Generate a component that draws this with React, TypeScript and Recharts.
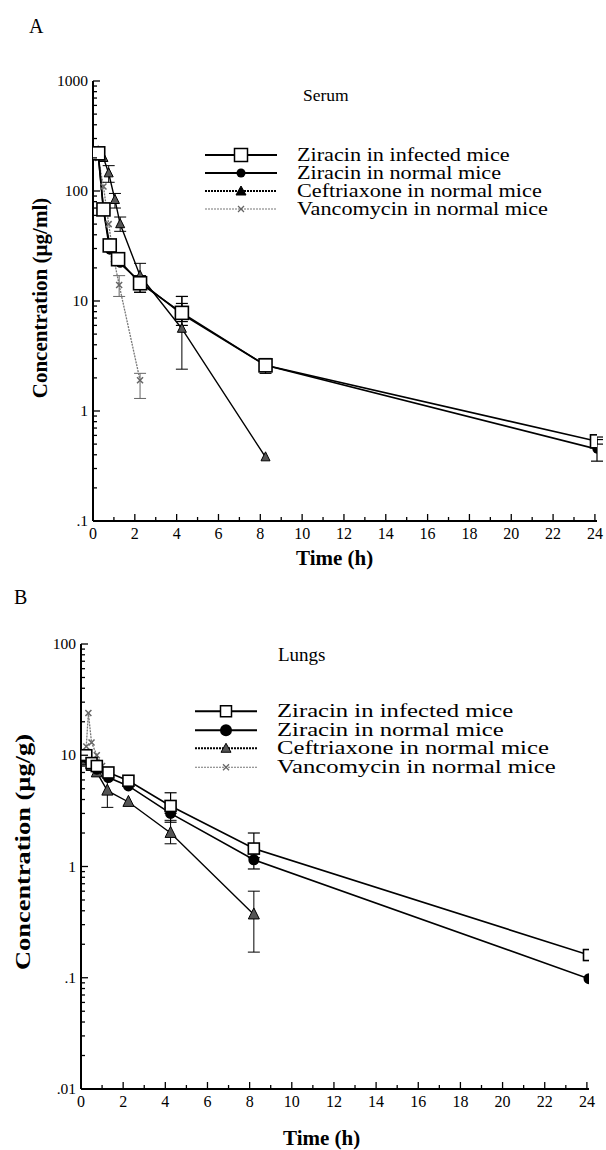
import { LineChart, Line, XAxis, YAxis, ErrorBar } from 'recharts';

// Serum (panel A)
const serumInfT = [0.25, 0.5, 0.8, 1.2, 2.25, 4.25, 8.25, 24.1];
const serumInfV = [220, 68, 32, 24, 14.5, 7.8, 2.6, 0.53];
const serumInfErr = [null, null, null, null, [12, 17], [6.5, 9.5], [2.2, 3.0], [0.5, 0.58]];

const serumNorT = [0.25, 0.5, 0.8, 1.3, 2.25, 4.25, 8.25, 24.1];
const serumNorV = [210, 68, 29, 22, 15, 7.6, 2.6, 0.45];
const serumNorErr = [null, null, null, null, null, [6, 11], null, [0.35, 0.55]];

const serumCefT = [0.25, 0.5, 0.75, 1.05, 1.3, 2.25, 4.25, 8.25];
const serumCefV = [230, 200, 145, 83, 50, 17, 5.6, 0.38];
const serumCefErr = [null, null, [120, 170], [70, 95], [43, 58], [12, 22], [2.4, 11], null];

const serumVanT = [0.25, 0.5, 0.75, 1, 1.25, 2.25];
const serumVanV = [200, 110, 50, 24, 14, 1.9];
const serumVanErr = [null, null, null, null, [11, 17], [1.3, 2.2]];

// Lungs (panel B)
const lungInfT = [0.25, 0.5, 0.75, 1.3, 2.25, 4.25, 8.2, 24.1];
const lungInfV = [10, 8.5, 8, 7, 5.9, 3.5, 1.45, 0.16];
const lungInfErr = [null, null, null, null, null, [3.0, 4.6], [1.2, 2.0], null];

const lungNorT = [0.25, 0.5, 0.75, 1.3, 2.25, 4.25, 8.2, 24.1];
const lungNorV = [9.5, 8.5, 7.5, 6.3, 5.3, 3.0, 1.15, 0.098];
const lungNorErr = [null, null, null, null, null, [2.5, 3.4], [0.95, 1.3], null];

const lungCefT = [0.25, 0.5, 0.75, 1.25, 2.25, 4.25, 8.2];
const lungCefV = [9, 8, 7, 4.8, 3.8, 2.0, 0.37];
const lungCefErr = [null, null, null, [3.4, 7], null, [1.6, 2.6], [0.17, 0.6]];

const lungVanT = [0.25, 0.35, 0.5, 0.75, 1, 1.25];
const lungVanV = [12, 24, 13, 10, 8, 6.5];

const hourTicks = Array.from({ length: 25 }, (_, i) => i);
const serumTicks = [0.1, 0.2, 0.3, 0.4, 0.5, 0.6, 0.7, 0.8, 0.9, 1, 2, 3, 4, 5, 6, 7, 8, 9, 10, 20, 30, 40, 50, 60, 70, 80, 90, 100, 200, 300, 400, 500, 600, 700, 800, 900, 1000];
const lungTicks = [0.01, 0.02, 0.03, 0.04, 0.05, 0.06, 0.07, 0.08, 0.09, 0.1, 0.2, 0.3, 0.4, 0.5, 0.6, 0.7, 0.8, 0.9, 1, 2, 3, 4, 5, 6, 7, 8, 9, 10, 20, 30, 40, 50, 60, 70, 80, 90, 100];

const legendNames = [
  'Ziracin in infected mice',
  'Ziracin in normal mice',
  'Ceftriaxone in normal mice',
  'Vancomycin in normal mice',
];

const FONT = "'Times New Roman', 'Liberation Serif', 'DejaVu Serif', serif";

function build(t: number[], v: number[], err?: (number[] | null)[]) {
  return t.map((x, i) => {
    const e = err ? err[i] : null;
    return { t: x, v: v[i], e: e ? [v[i] - e[0], e[1] - v[i]] : undefined };
  });
}

const labelOf = (n: number) => {
  if (n >= 1) return String(n);
  return String(n).replace(/^0/, '');
};

function YTick(props: any) {
  const { x, y, payload } = props;
  const val = payload.value;
  const major = Math.abs(Math.log10(val) - Math.round(Math.log10(val))) < 1e-6;
  return (
    <g>
      <line x1={x} x2={x + (major ? 7 : 4)} y1={y} y2={y} stroke="#000" strokeWidth={1.3} />
      {major && (
        <text x={x - 5} y={y + 5} textAnchor="end" style={{ fontFamily: FONT }} fontSize={15.5} fill="#000">
          {labelOf(val)}
        </text>
      )}
    </g>
  );
}

function XTick(props: any) {
  const { x, y, payload } = props;
  const major = payload.value % 2 === 0;
  return (
    <g>
      <line x1={x} x2={x} y1={y} y2={y - (major ? 7 : 4)} stroke="#000" strokeWidth={1.3} />
      {major && (
        <text x={x} y={y + 18} textAnchor="middle" style={{ fontFamily: FONT }} fontSize={16} fill="#000">
          {payload.value}
        </text>
      )}
    </g>
  );
}

const squareDot = (s: number) => (p: any) =>
  p.cx == null ? null : (
    <rect key={p.index} x={p.cx - s / 2} y={p.cy - s / 2} width={s} height={s} fill="#fff" stroke="#000" strokeWidth={1.6} />
  );
const circleDot = (r: number) => (p: any) =>
  p.cx == null ? null : <circle key={p.index} cx={p.cx} cy={p.cy} r={r} fill="#000" />;
const triDot = (s: number) => (p: any) =>
  p.cx == null ? null : (
    <polygon
      key={p.index}
      points={`${p.cx},${p.cy - s * 0.6} ${p.cx - s / 2},${p.cy + s * 0.4} ${p.cx + s / 2},${p.cy + s * 0.4}`}
      fill="#555"
      stroke="#000"
      strokeWidth={1}
    />
  );
const crossDot = (p: any) =>
  p.cx == null ? null : (
    <g key={p.index} stroke="#666" strokeWidth={1.5}>
      <line x1={p.cx - 3} x2={p.cx + 3} y1={p.cy - 3} y2={p.cy + 3} />
      <line x1={p.cx - 3} x2={p.cx + 3} y1={p.cy + 3} y2={p.cy - 3} />
    </g>
  );

function LegendBox({ left, top, rowH, fontSize, stretch, textLeft, sq, big }: any) {
  const sampleW = textLeft - 20;
  return (
    <div style={{ position: 'absolute', left, top, fontFamily: FONT, fontSize, lineHeight: `${rowH}px` }}>
      {legendNames.map((name, i) => (
        <div key={name} style={{ position: 'relative', height: rowH, whiteSpace: 'nowrap' }}>
          <svg width={sampleW} height={rowH} style={{ position: 'absolute', left: 0, top: 0 }}>
            <line
              x1={0}
              x2={sampleW}
              y1={rowH / 2}
              y2={rowH / 2}
              stroke={i === 3 ? '#777' : '#000'}
              strokeWidth={i === 3 ? 1.2 : 1.8}
              strokeDasharray={i >= 2 ? '2 1' : undefined}
            />
            {i === 0 && <rect x={sampleW / 2 - sq / 2} y={rowH / 2 - sq / 2} width={sq} height={sq} fill="#fff" stroke="#000" strokeWidth={1.5} />}
            {i === 1 && <circle cx={sampleW / 2} cy={rowH / 2} r={big ? 6 : 4.5} fill="#000" />}
            {i === 2 && (
              <polygon
                points={`${sampleW / 2},${rowH / 2 - 5} ${sampleW / 2 - 5},${rowH / 2 + 4} ${sampleW / 2 + 5},${rowH / 2 + 4}`}
                fill={big ? '#555' : '#000'}
                stroke="#000"
              />
            )}
            {i === 3 && (
              <g stroke="#666" strokeWidth={1.3}>
                <line x1={sampleW / 2 - 3} x2={sampleW / 2 + 3} y1={rowH / 2 - 3} y2={rowH / 2 + 3} />
                <line x1={sampleW / 2 - 3} x2={sampleW / 2 + 3} y1={rowH / 2 + 3} y2={rowH / 2 - 3} />
              </g>
            )}
          </svg>
          <span
            style={{
              position: 'absolute',
              left: textLeft,
              top: 0,
              transform: `scaleX(${stretch})`,
              transformOrigin: 'left center',
            }}
          >
            {name}
          </span>
        </div>
      ))}
    </div>
  );
}

const serumData = {
  inf: build(serumInfT, serumInfV, serumInfErr),
  nor: build(serumNorT, serumNorV, serumNorErr),
  cef: build(serumCefT, serumCefV, serumCefErr),
  van: build(serumVanT, serumVanV, serumVanErr),
};
const lungData = {
  inf: build(lungInfT, lungInfV, lungInfErr),
  nor: build(lungNorT, lungNorV, lungNorErr),
  cef: build(lungCefT, lungCefV, lungCefErr),
  van: build(lungVanT, lungVanV),
};

function Panel({ data, yTicks, yDomain, yWidth, margin, height, sq, cr, ts }: any) {
  return (
    <LineChart width={606} height={height} margin={margin}>
      <XAxis
        type="number"
        dataKey="t"
        domain={[0, 24.1]}
        ticks={hourTicks}
        interval={0}
        tick={<XTick />}
        tickSize={0}
        tickMargin={0}
        height={30}
        axisLine={{ stroke: '#000', strokeWidth: 2 }}
        allowDataOverflow
      />
      <YAxis
        type="number"
        dataKey="v"
        scale="log"
        domain={yDomain}
        ticks={yTicks}
        interval={0}
        tick={<YTick />}
        tickSize={0}
        tickMargin={0}
        width={yWidth}
        axisLine={{ stroke: '#000', strokeWidth: 2 }}
        allowDataOverflow
      />
      <Line data={data.van} dataKey="v" stroke="#777" strokeWidth={1.3} strokeDasharray="2 1" dot={crossDot} isAnimationActive={false}>
        <ErrorBar dataKey="e" width={6} stroke="#666" strokeWidth={1} direction="y" />
      </Line>
      <Line data={data.cef} dataKey="v" stroke="#000" strokeWidth={1.4} dot={triDot(ts)} isAnimationActive={false}>
        <ErrorBar dataKey="e" width={6} stroke="#000" strokeWidth={1} direction="y" />
      </Line>
      <Line data={data.nor} dataKey="v" stroke="#000" strokeWidth={1.6} dot={circleDot(cr)} isAnimationActive={false}>
        <ErrorBar dataKey="e" width={6} stroke="#000" strokeWidth={1.2} direction="y" />
      </Line>
      <Line data={data.inf} dataKey="v" stroke="#000" strokeWidth={1.6} dot={squareDot(sq)} isAnimationActive={false}>
        <ErrorBar dataKey="e" width={6} stroke="#000" strokeWidth={1.2} direction="y" />
      </Line>
    </LineChart>
  );
}

const textStyle: any = { position: 'absolute', fontFamily: FONT, color: '#000', whiteSpace: 'nowrap', lineHeight: 1 };

export default function App() {
  return (
    <div style={{ position: 'absolute', left: 0, top: 0, width: 606, height: 1150, background: '#fff', overflow: 'hidden', fontFamily: FONT }}>
      <div style={{ ...textStyle, left: 29, top: 16, fontSize: 20 }}>A</div>
      <div style={{ position: 'absolute', left: 0, top: 0 }}>
        <Panel
          data={serumData}
          yTicks={serumTicks}
          yDomain={[0.1, 1000]}
          yWidth={93}
          height={570}
          margin={{ top: 81, right: 9, bottom: 19, left: 0 }}
          sq={13}
          cr={4.5}
          ts={9}
        />
      </div>
      <div style={{ ...textStyle, left: 303, top: 87, fontSize: 17.5 }}>Serum</div>
      <LegendBox left={205} top={146} rowH={18} fontSize={18.5} stretch={1.2} textLeft={92} sq={13} big={false} />
      <div style={{ ...textStyle, left: 296, top: 548, fontSize: 21, fontWeight: 'bold' }}>Time (h)</div>
      <div
        style={{
          ...textStyle,
          left: 40,
          top: 298,
          fontSize: 21,
          fontWeight: 'bold',
          transform: 'translate(-50%, -50%) rotate(-90deg)',
        }}
      >
        Concentration (µg/ml)
      </div>

      <div style={{ ...textStyle, left: 14, top: 587, fontSize: 20 }}>B</div>
      <div style={{ position: 'absolute', left: 0, top: 560 }}>
        <Panel
          data={lungData}
          yTicks={lungTicks}
          yDomain={[0.01, 100]}
          yWidth={81}
          height={590}
          margin={{ top: 84, right: 17, bottom: 31, left: 0 }}
          sq={11}
          cr={5.5}
          ts={11}
        />
      </div>
      <div style={{ ...textStyle, left: 278, top: 645, fontSize: 19 }}>Lungs</div>
      <LegendBox left={195} top={702} rowH={18.5} fontSize={18} stretch={1.37} textLeft={82} sq={11} big={true} />
      <div style={{ ...textStyle, left: 283, top: 1128, fontSize: 21, fontWeight: 'bold' }}>Time (h)</div>
      <div
        style={{
          ...textStyle,
          left: 23,
          top: 852,
          fontSize: 22,
          fontWeight: 'bold',
          transform: 'translate(-50%, -50%) rotate(-90deg) scaleX(1.2)',
        }}
      >
        Concentration (µg/g)
      </div>
    </div>
  );
}
